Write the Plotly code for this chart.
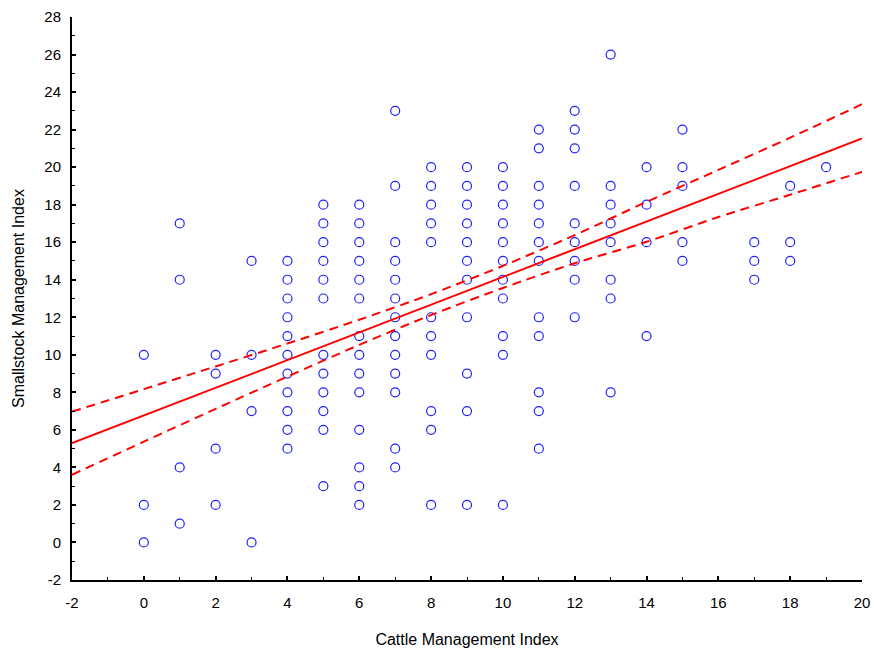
import plotly.graph_objects as go

# Observations grouped by Cattle Management Index (x) -> Smallstock Management Index values
cattle_groups = [0, 1, 2, 3, 4, 5, 6, 7, 8, 9, 10, 11, 12, 13, 14, 15, 17, 18, 19]
smallstock_groups = [
    [10, 2, 0],
    [17, 14, 4, 1],
    [10, 9, 5, 2],
    [15, 10, 7, 0],
    [15, 14, 13, 12, 11, 10, 9, 8, 7, 6, 5],
    [18, 17, 16, 15, 14, 13, 10, 9, 8, 7, 6, 3],
    [18, 17, 16, 15, 14, 13, 11, 10, 9, 8, 6, 4, 3, 2],
    [23, 19, 16, 15, 14, 13, 12, 11, 10, 9, 8, 5, 4],
    [20, 19, 18, 17, 16, 12, 11, 10, 7, 6, 2],
    [20, 19, 18, 17, 16, 15, 14, 12, 9, 7, 2],
    [20, 19, 18, 17, 16, 15, 14, 13, 11, 10, 2],
    [22, 21, 19, 18, 17, 16, 15, 12, 11, 8, 7, 5],
    [23, 22, 21, 19, 17, 16, 15, 14, 12],
    [26, 19, 18, 17, 16, 14, 13, 8],
    [20, 18, 16, 11],
    [22, 20, 19, 16, 15],
    [16, 15, 14],
    [19, 16, 15],
    [20],
]

# Fitted regression line and 95% confidence band
band_x = [-2, 0, 2, 4, 6, 8, 10, 12, 14, 16, 18, 20]
fit_y = [5.29, 6.77, 8.25, 9.72, 11.20, 12.67, 14.15, 15.63, 17.10, 18.58, 20.05, 21.53]
upper_y = [6.97, 8.17, 9.38, 10.60, 11.87, 13.23, 14.74, 16.38, 18.15, 19.85, 21.57, 23.35]
lower_y = [3.61, 5.37, 7.12, 8.84, 10.53, 12.12, 13.56, 14.88, 16.02, 17.34, 18.53, 19.75]

# Tick positions and labels (plain hyphen for negatives)
x_ticks = [-2, 0, 2, 4, 6, 8, 10, 12, 14, 16, 18, 20]
x_tick_labels = ["-2", "0", "2", "4", "6", "8", "10", "12", "14", "16", "18", "20"]
y_ticks = [-2, 0, 2, 4, 6, 8, 10, 12, 14, 16, 18, 20, 22, 24, 26, 28]
y_tick_labels = ["-2", "0", "2", "4", "6", "8", "10", "12", "14", "16", "18", "20", "22", "24", "26", "28"]

xs, ys = [], []
for cx, vals in zip(cattle_groups, smallstock_groups):
    for v in vals:
        xs.append(cx)
        ys.append(v)

fig = go.Figure()
fig.add_trace(go.Scatter(
    x=xs, y=ys, mode="markers",
    marker=dict(symbol="circle-open", size=9, color="#2020ff", line=dict(width=1.2, color="#2020ff")),
    hoverinfo="x+y", showlegend=False, cliponaxis=False,
))
for band in (upper_y, lower_y):
    fig.add_trace(go.Scatter(
        x=band_x, y=band, mode="lines",
        line=dict(color="#ff0000", width=2, dash="9px,6px", shape="spline", smoothing=0.8),
        showlegend=False,
    ))
fig.add_trace(go.Scatter(
    x=band_x, y=fit_y, mode="lines",
    line=dict(color="#ff0000", width=2),
    showlegend=False,
))

tick_font = dict(family="Liberation Sans, Arial, sans-serif", size=15, color="black")
title_font = dict(family="Liberation Sans, Arial, sans-serif", size=16, color="black")
fig.update_layout(
    width=874, height=651,
    margin=dict(l=72, r=12, t=17, b=71, autoexpand=False),
    paper_bgcolor="white", plot_bgcolor="white",
    font=tick_font,
    xaxis=dict(
        range=[-2, 20], tickmode="array", tickvals=x_ticks, ticktext=x_tick_labels,
        automargin=False, showgrid=False, zeroline=False,
        showline=True, linecolor="black", linewidth=2,
        ticks="inside", ticklen=4, tickwidth=1.5, tickcolor="black",
        minor=dict(tick0=-2, dtick=1, ticks="inside", ticklen=3, tickwidth=1, tickcolor="black"),
        tickfont=tick_font, ticklabelstandoff=8,
        title=dict(text="Cattle Management Index", font=title_font, standoff=24),
    ),
    yaxis=dict(
        range=[-2, 28], tickmode="array", tickvals=y_ticks, ticktext=y_tick_labels,
        automargin=False, showgrid=False, zeroline=False,
        showline=True, linecolor="black", linewidth=2,
        ticks="inside", ticklen=4, tickwidth=1.5, tickcolor="black",
        minor=dict(tick0=-2, dtick=1, ticks="inside", ticklen=3, tickwidth=1, tickcolor="black"),
        tickfont=tick_font, ticklabelstandoff=6,
        title=dict(text="Smallstock Management Index", font=title_font, standoff=16),
    ),
)

fig.write_html("out.html")
